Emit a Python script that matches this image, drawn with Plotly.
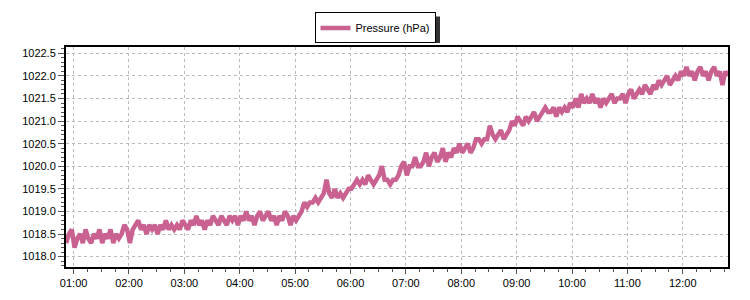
import pandas as pd
import plotly.graph_objects as go

series_name = "Pressure (hPa)"
start_time = "2024-01-01 00:52"
step_minutes = 3

pressure_hpa = [
    # 00:52 - 01:49
    1018.3, 1018.5, 1018.6, 1018.2, 1018.4, 1018.5, 1018.3, 1018.6, 1018.4, 1018.3,
    1018.5, 1018.4, 1018.6, 1018.3, 1018.5, 1018.4, 1018.6, 1018.3, 1018.5, 1018.4,
    # 01:52 - 02:49
    1018.5, 1018.7, 1018.6, 1018.3, 1018.6, 1018.7, 1018.8, 1018.6, 1018.7, 1018.5,
    1018.7, 1018.6, 1018.7, 1018.5, 1018.7, 1018.6, 1018.8, 1018.6, 1018.7, 1018.6,
    # 02:52 - 03:49
    1018.7, 1018.6, 1018.8, 1018.7, 1018.6, 1018.8, 1018.7, 1018.9, 1018.7, 1018.8,
    1018.6, 1018.8, 1018.7, 1018.9, 1018.8, 1018.7, 1018.9, 1018.8, 1018.7, 1018.9,
    # 03:52 - 04:49
    1018.8, 1018.9, 1018.7, 1018.9, 1018.8, 1019.0, 1018.8, 1018.9, 1018.7, 1018.9,
    1019.0, 1018.8, 1018.9, 1019.0, 1018.8, 1018.9, 1018.7, 1018.9, 1018.8, 1019.0,
    # 04:52 - 05:49
    1018.9, 1018.7, 1018.9, 1018.8, 1018.9, 1019.0, 1019.2, 1019.1, 1019.2, 1019.2,
    1019.3, 1019.2, 1019.3, 1019.4, 1019.7, 1019.4, 1019.3, 1019.5, 1019.3, 1019.4,
    # 05:52 - 06:49
    1019.3, 1019.4, 1019.5, 1019.5, 1019.6, 1019.7, 1019.6, 1019.7, 1019.6, 1019.8,
    1019.7, 1019.6, 1019.7, 1019.8, 1020.0, 1019.7, 1019.7, 1019.6, 1019.7, 1019.7,
    # 06:52 - 07:49
    1019.8, 1020.0, 1020.1, 1019.8, 1020.0, 1020.0, 1020.2, 1020.0, 1020.0, 1020.1,
    1020.3, 1020.0, 1020.2, 1020.3, 1020.1, 1020.2, 1020.4, 1020.1, 1020.3, 1020.2,
    # 07:52 - 08:49
    1020.4, 1020.3, 1020.5, 1020.3, 1020.4, 1020.5, 1020.3, 1020.4, 1020.6, 1020.6,
    1020.5, 1020.6, 1020.6, 1020.9, 1020.7, 1020.6, 1020.7, 1020.8, 1020.6, 1020.7,
    # 08:52 - 09:49
    1020.8, 1021.0, 1020.9, 1021.1, 1021.0, 1020.9, 1021.1, 1021.0, 1021.1, 1021.2,
    1021.0, 1021.1, 1021.2, 1021.3, 1021.2, 1021.2, 1021.3, 1021.1, 1021.3, 1021.2,
    # 09:52 - 10:49
    1021.3, 1021.2, 1021.4, 1021.3, 1021.5, 1021.3, 1021.6, 1021.4, 1021.5, 1021.4,
    1021.6, 1021.4, 1021.5, 1021.3, 1021.5, 1021.4, 1021.5, 1021.6, 1021.4, 1021.5,
    # 10:52 - 11:49
    1021.5, 1021.6, 1021.4, 1021.6, 1021.7, 1021.5, 1021.6, 1021.7, 1021.6, 1021.8,
    1021.7, 1021.6, 1021.8, 1021.7, 1021.9, 1021.8, 1021.9, 1022.0, 1021.8, 1021.9,
    # 11:52 - 12:49
    1022.0, 1021.9, 1022.1, 1022.0, 1022.2, 1022.0, 1022.1, 1021.9, 1022.1, 1022.2,
    1022.0, 1022.1, 1021.9, 1022.1, 1022.2, 1022.0, 1022.1, 1021.8, 1022.1, 1022.0,
]

times = pd.date_range(start_time, periods=len(pressure_hpa), freq=f"{step_minutes}min")

x_range = ["2024-01-01 00:51:45", "2024-01-01 12:49:00"]
y_range = [1017.77, 1022.64]

line_color = "#CA6291"
font_family = "Liberation Sans, Arial, sans-serif"

fig = go.Figure()
fig.add_trace(go.Scatter(
    x=times, y=pressure_hpa, mode="lines", name=series_name,
    line=dict(color=line_color, width=4.5),
))

# plot area in pixels: x 66..728, y 44..267
L, R, T, B = 66, 728, 44, 267
W, H = R - L, B - T

def px_x(p):
    return (p - L) / W

def px_y(p):
    return (B - p) / H

# legend drop shadow (offset down-right from the legend box)
fig.add_shape(type="rect", xref="paper", yref="paper",
              x0=px_x(320), x1=px_x(440), y0=px_y(40), y1=px_y(13),
              fillcolor="#333333", line=dict(width=0), layer="below")

fig.update_layout(
    width=750, height=300,
    margin=dict(l=L, r=750 - R, t=T, b=300 - B),
    paper_bgcolor="white", plot_bgcolor="white",
    font=dict(family=font_family, size=11, color="black"),
    showlegend=True,
    legend=dict(
        x=px_x(375), y=px_y(9), xanchor="center", yanchor="top",
        orientation="h", bgcolor="white", bordercolor="black", borderwidth=1,
        font=dict(size=11, family=font_family), itemwidth=30,
        tracegroupgap=0,
    ),
    xaxis=dict(
        type="date", range=x_range, tickformat="%H:%M",
        dtick=3600000, tick0="2024-01-01 01:00",
        ticks="outside", ticklen=5, tickcolor="#555555", tickwidth=1,
        showline=True, linecolor="black", linewidth=2, mirror=True,
        showgrid=True, gridcolor="#BBBBBB", griddash="dot", gridwidth=1,
        minor=dict(dtick=900000, ticks="outside", ticklen=3, tickcolor="#555555", showgrid=False),
        tickfont=dict(size=11), zeroline=False,
    ),
    yaxis=dict(
        range=y_range, dtick=0.5, tick0=1018, tickformat=".1f",
        ticks="outside", ticklen=6, tickcolor="#555555", tickwidth=1,
        showline=True, linecolor="black", linewidth=2, mirror=True,
        showgrid=True, gridcolor="#BBBBBB", griddash="dot", gridwidth=1,
        minor=dict(dtick=0.1, ticks="outside", ticklen=3, tickcolor="#555555", showgrid=False),
        tickfont=dict(size=11), zeroline=False,
    ),
)

fig.write_html("out.html")
